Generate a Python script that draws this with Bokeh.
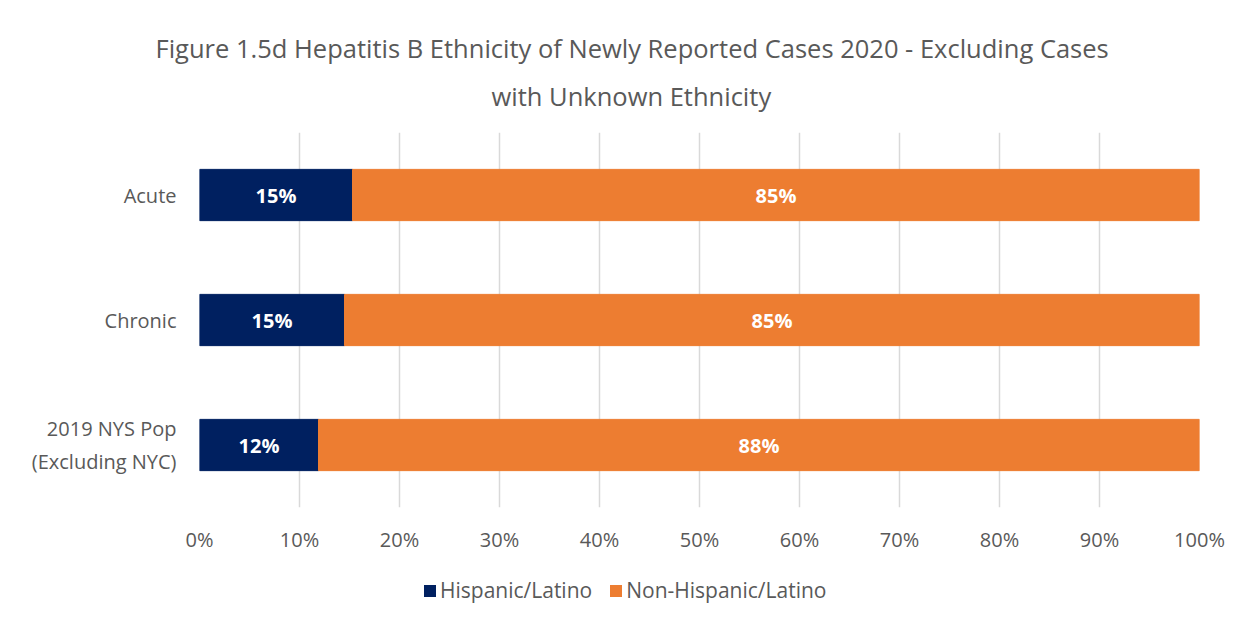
from bokeh.plotting import figure
from bokeh.layouts import column
from bokeh.models import ColumnDataSource, Legend, LegendItem, Title, FactorRange, LabelSet, SingleIntervalTicker, NumeralTickFormatter
from bokeh.core.properties import value
from bokeh.embed import file_html
from bokeh.resources import INLINE

categories = ["Acute", "Chronic", "2019 NYS Pop\n(Excluding NYC)"]
hispanic = [15.3, 14.5, 11.9]
non_hispanic = [84.7, 85.5, 88.1]
hispanic_labels = ["15%", "15%", "12%"]
non_hispanic_labels = ["85%", "85%", "88%"]
series_names = ["Hispanic/Latino", "Non-Hispanic/Latino"]
colors = ["#002060", "#ED7D31"]
title_lines = ["Figure 1.5d Hepatitis B Ethnicity of Newly Reported Cases 2020 - Excluding Cases",
               "with Unknown Ethnicity"]

FONT = "Open Sans"
GRAY = "#595959"

cats_rev = list(reversed(categories))
h = [v / 100 for v in hispanic]
n = [v / 100 for v in non_hispanic]
src = ColumnDataSource(dict(
    cat=categories,
    h0=[0] * 3, h1=h,
    n0=h, n1=[a + b for a, b in zip(h, n)],
    hmid=[x / 2 for x in h],
    nmid=[a + b / 2 for a, b in zip(h, n)],
    hl=hispanic_labels, nl=non_hispanic_labels,
))

p = figure(width=1253, height=570, y_range=FactorRange(*cats_rev), x_range=(0, 1),
           output_backend="svg", toolbar_location=None,
           min_border_left=199, min_border_right=54, min_border_top=132, min_border_bottom=63)
p.outline_line_color = None

r1 = p.hbar(y="cat", left="h0", right="h1", height=0.41, color=colors[0], source=src)
r2 = p.hbar(y="cat", left="n0", right="n1", height=0.41, color=colors[1], source=src)

for xcol, tcol in (("hmid", "hl"), ("nmid", "nl")):
    p.add_layout(LabelSet(x=xcol, y="cat", text=tcol, source=src, text_align="center",
                          text_baseline="middle", text_color="white", text_font_style="bold",
                          text_font_size="20px", text_font=value(FONT)))

p.xaxis.ticker = SingleIntervalTicker(interval=0.1)
p.xaxis.formatter = NumeralTickFormatter(format="0%")
for ax in (p.xaxis[0], p.yaxis[0]):
    ax.axis_line_color = None
    ax.major_tick_line_color = None
    ax.minor_tick_line_color = None
    ax.major_label_text_color = GRAY
    ax.major_label_text_font = FONT
    ax.major_label_text_font_size = "20px"
p.xaxis.major_label_standoff = 12
p.yaxis.major_label_standoff = 17
p.xgrid.grid_line_color = "#d9d9d9"
p.xgrid.grid_line_width = 1.5
p.ygrid.grid_line_color = None
p.y_range.range_padding = 0
p.y_range.group_padding = 0

p.add_layout(Title(text=title_lines[1], align="left", offset=292,
                   text_font=FONT, text_font_size="25.5px", text_font_style="normal",
                   text_color=GRAY, standoff=39), "above")
p.add_layout(Title(text=title_lines[0], align="left", offset=-44,
                   text_font=FONT, text_font_size="25.5px", text_font_style="normal",
                   text_color=GRAY, standoff=-14), "above")

# legend strip below the chart (zero-height proxies of the same bars, kept out of view)
p2 = figure(width=1253, height=54, y_range=FactorRange(*cats_rev), x_range=(2, 3),
            output_backend="svg", toolbar_location=None,
            x_axis_location=None, y_axis_location=None, min_border=0)
p2.outline_line_color = None
p2.grid.grid_line_color = None
q1 = p2.hbar(y="cat", left="h0", right="h1", height=0, fill_color=colors[0], line_alpha=0, source=src)
q2 = p2.hbar(y="cat", left="n0", right="n1", height=0, fill_color=colors[1], line_alpha=0, source=src)
legend = Legend(items=[LegendItem(label=series_names[0], renderers=[q1]),
                       LegendItem(label=series_names[1], renderers=[q2])],
                orientation="horizontal", location=(223, 20),
                label_text_font=FONT, label_text_font_size="21px", label_text_color=GRAY,
                glyph_width=15, glyph_height=15, spacing=16, label_standoff=3,
                border_line_color=None, background_fill_alpha=0, padding=0, margin=0)
p2.add_layout(legend, "center")

layout = column(p, p2, spacing=0)
open("out.html", "w").write(file_html(layout, INLINE))
